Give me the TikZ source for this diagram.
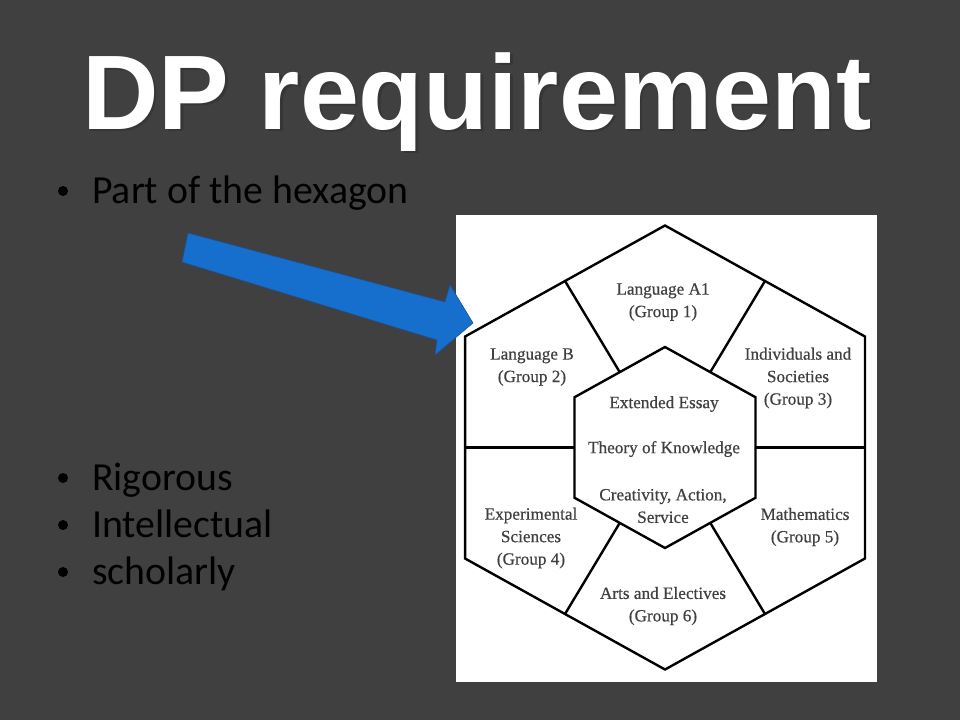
\documentclass[tikz,border=0pt]{standalone}
\usepackage{fontspec}
\setmainfont{Liberation Serif}
\newfontfamily\titlefont{Liberation Sans}
\newfontfamily\bodyfont{Carlito}
\newfontfamily\labelfont[FakeBold=0.5]{Liberation Serif}
\definecolor{slidebg}{RGB}{64,64,64}
\definecolor{arrowblue}{RGB}{22,111,204}
\definecolor{arrowedge}{RGB}{28,82,150}
\tikzset{hexline/.style={draw=black,line width=2.4pt,line join=miter},
  grouplabel/.style={align=center,text=black!75,inner sep=0pt,font=\labelfont\fontsize{17.2}{22.5}\selectfont},
  bullettext/.style={anchor=base west,text=black,inner sep=0pt,font=\bodyfont\fontsize{39.8}{47}\selectfont},
  bulletdot/.style={circle,fill=black,inner sep=0pt,minimum size=10pt},
  headline/.style={anchor=base west,inner sep=0pt,font=\titlefont\bfseries\fontsize{106}{120}\selectfont}}

\begin{document}
\begin{tikzpicture}[x=1pt,y=-1pt]
  \fill[slidebg] (0,0) rectangle (960,720);
  \useasboundingbox (0,0) rectangle (960,720);
  \node[headline,text=black!80,opacity=0.75] (titleshadow) at (84.5,131.5) {DP requirement};
  \node[headline,text=white] (title) at (82,129) {DP requirement};
  \foreach \t/\yy/\n in {Part of the hexagon/203/first,Rigorous/490/rigor,Intellectual/537/intel,scholarly/584/schol} {
    \node[bulletdot] (dot\n) at (63,\yy-12) {};
    \node[bullettext] (\n) at (92,\yy) {\t};
  }
  \fill[white] (456,215) rectangle (877,682);
  \begin{scope}[shift={(665,447.5)},xscale=1.04]
    \draw[hexline] (30:222) \foreach \a in {90,150,210,270,330} {-- (\a:222)} -- cycle;
    \draw[hexline] (30:100.5) \foreach \a in {90,150,210,270,330} {-- (\a:100.5)} -- cycle;
    \foreach \a in {0,60,...,300} \draw[hexline] (\a:87) -- (\a:192.3);
  \end{scope}
  \filldraw[fill=arrowblue,draw=arrowedge,line width=0.6pt,line join=miter]
    (188,233) -- (445,302) -- (450,285) -- (473,323) -- (435,355) -- (437,340) -- (182,262) -- cycle;
  \node[grouplabel] (grpone) at (663,302) {Language A1\\(Group 1)};
  \node[grouplabel] (grptwo) at (532,367) {Language B\\(Group 2)};
  \node[grouplabel] (grpthree) at (798,378) {Individuals and\\Societies\\(Group 3)};
  \node[grouplabel] (essay) at (664,404) {Extended Essay};
  \node[grouplabel] (tok) at (664,449) {Theory of Knowledge};
  \node[grouplabel] (cas) at (663,506) {Creativity, Action,\\Service};
  \node[grouplabel] (grpfour) at (531,538) {Experimental\\Sciences\\(Group 4)};
  \node[grouplabel] (grpfive) at (805,527) {Mathematics\\(Group 5)};
  \node[grouplabel] (grpsix) at (663,606) {Arts and Electives\\(Group 6)};
\end{tikzpicture}
\end{document}
